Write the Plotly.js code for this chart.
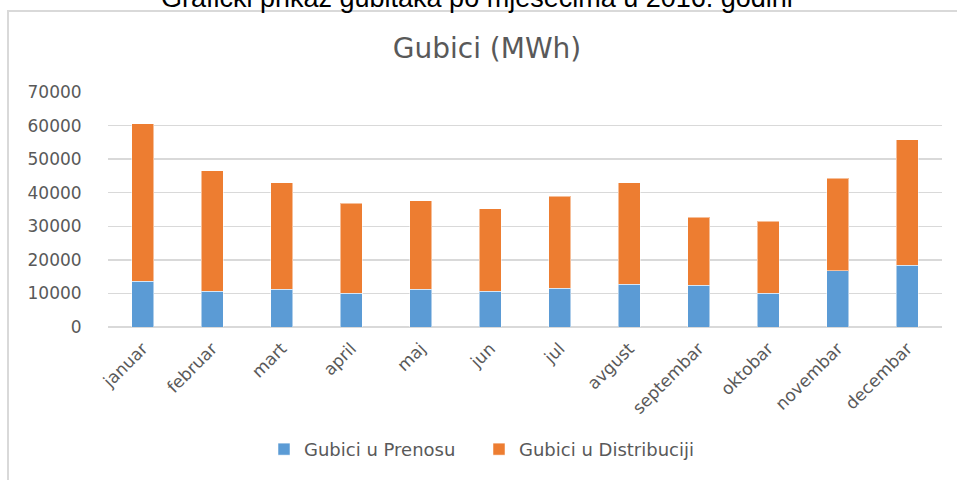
<!DOCTYPE html>
<html>
<head>
<meta charset="utf-8">
<script src="https://cdn.plot.ly/plotly-3.0.1.min.js"></script>
<style>html,body{margin:0;padding:0;background:#fff;}#chart{width:957px;height:480px;}</style>
</head>
<body>
<div id="chart"></div>
<script>
const months = ["januar","februar","mart","april","maj","jun","jul","avgust","septembar","oktobar","novembar","decembar"];
const prenos = [13700, 10700, 11300, 10000, 11300, 10600, 11500, 12700, 12400, 10000, 16800, 18400];
const distribucija = [46800, 35800, 31600, 26800, 26300, 24600, 27500, 30200, 20300, 21500, 27500, 37400];
const yTicks = [0, 10000, 20000, 30000, 40000, 50000, 60000, 70000];
const seriesNames = ["Gubici u Prenosu", "Gubici u Distribuciji"];
const pageTitle = "Grafički prikaz gubitaka po mjesecima u 2016. godini";
const chartTitle = "Gubici (MWh)";

const W = 957, H = 480;
const L = 108, R = 15, T = 92, B = 150;
const pw = W - L - R, ph = H - T - B;
const px = x => (x - L) / pw;
const py = y => (H - B - y) / ph;

const gray = "#595959";
const traces = [
  {type: "bar", name: seriesNames[0], x: months, y: prenos,
   marker: {color: "#5b9bd5", line: {color: "rgba(255,255,255,0.5)", width: 1}}},
  {type: "bar", name: seriesNames[1], x: months, y: distribucija,
   marker: {color: "#ed7d31", line: {color: "rgba(255,255,255,0.5)", width: 1}}}
];

const layout = {
  width: W, height: H,
  margin: {l: L, r: R, t: T, b: B, pad: 0},
  barmode: "stack",
  bargap: 0.69,
  paper_bgcolor: "#fff",
  plot_bgcolor: "#fff",
  font: {family: "DejaVu Sans, sans-serif", color: gray},
  title: {text: chartTitle, xref: "container", x: 487 / W, xanchor: "center",
          yref: "container", y: 1 - 48 / H, yanchor: "middle",
          font: {family: "DejaVu Sans, sans-serif", size: 28, color: gray}},
  xaxis: {
    type: "category", tickangle: -45,
    tickfont: {family: "DejaVu Sans, sans-serif", size: 17, color: gray},
    showgrid: false, showline: false, zeroline: false,
    ticks: "outside", ticklen: 4, tickcolor: "rgba(0,0,0,0)",
    fixedrange: true
  },
  yaxis: {
    range: [0, 70000], tickvals: yTicks, ticktext: yTicks.map(String),
    tickfont: {family: "DejaVu Sans, sans-serif", size: 17, color: gray},
    showgrid: true, gridcolor: "#d9d9d9", gridwidth: 1.5,
    zeroline: true, zerolinecolor: "#d9d9d9", zerolinewidth: 1.5,
    showline: false,
    ticks: "outside", ticklen: 22, tickcolor: "rgba(0,0,0,0)",
    fixedrange: true
  },
  showlegend: true,
  legend: {orientation: "h", x: px(264), xanchor: "left", y: py(454), yanchor: "middle",
           font: {family: "DejaVu Sans, sans-serif", size: 18, color: gray},
           itemwidth: 30, tracegroupgap: 0, traceorder: "normal",
           entrywidth: 170, entrywidthmode: "pixels"},
  shapes: [
    {type: "rect", xref: "paper", yref: "paper", layer: "below",
     x0: px(8), x1: px(970), y0: py(500), y1: py(10),
     line: {color: "#d9d9d9", width: 2}, fillcolor: "rgba(0,0,0,0)"}
  ],
  annotations: [
    {text: pageTitle, xref: "paper", yref: "paper", x: px(477), y: py(14),
     xanchor: "center", yanchor: "bottom", showarrow: false,
     font: {family: "Liberation Sans, Arial, sans-serif", size: 27, color: "#000"}}
  ]
};

Plotly.newPlot("chart", traces, layout, {displayModeBar: false, staticPlot: true});
</script>
</body>
</html>
